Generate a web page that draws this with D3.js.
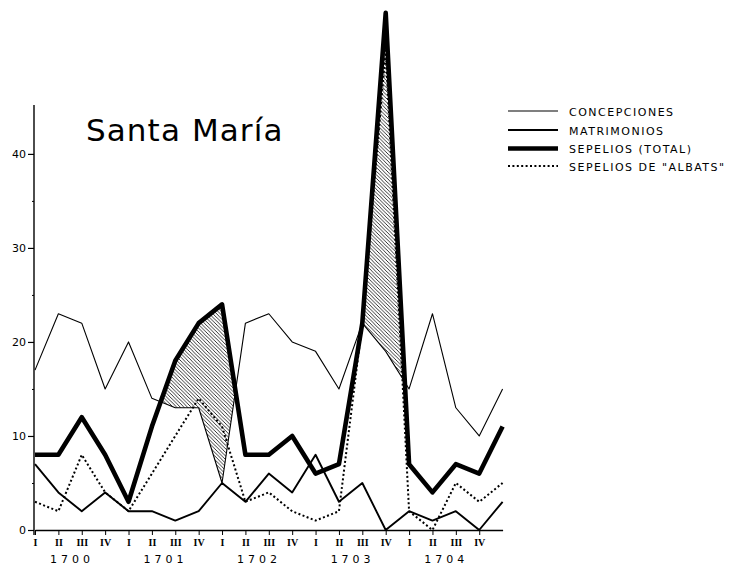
<!DOCTYPE html>
<html><head><meta charset="utf-8">
<script src="https://cdn.jsdelivr.net/npm/d3@7"></script>
<style>body{margin:0;background:#fff}</style>
</head><body>
<svg id="c" width="733" height="567"></svg>
<script>
// ---- data ----
const quarters = ["I","II","III","IV","I","II","III","IV","I","II","III","IV","I","II","III","IV","I","II","III","IV",""];
const years = ["1700","1701","1702","1703","1704"];
const concepciones = [17,23,22,15,20,14,13,13,5,22,23,20,19,15,22,19,15,23,13,10,15];
const matrimonios  = [7,4,2,4,2,2,1,2,5,3,6,4,8,3,5,0,2,1,2,0,3];
const sepeliosTotal = [8,8,12,8,3,11,18,22,24,8,8,10,6,7,22,55,7,4,7,6,11];
const sepeliosAlbats = [3,2,8,4,2,6,10,14,11,3,4,2,1,2,22,51,2,0,5,3,5];
const yTicks = [0,10,20,30,40];
const yMinor = [5,15,25,35];
const seriesNames = ["CONCEPCIONES","MATRIMONIOS","SEPELIOS (TOTAL)",'SEPELIOS DE "ALBATS"'];
const title = "Santa María";

// ---- drawing ----
const svg = d3.select("#c");
const idx = d3.range(quarters.length);
const x = d3.scalePoint().domain(idx).range([35, 502.6]);
const y = d3.scaleLinear().domain([0, 45.2]).range([530, 105]);

const defs = svg.append("defs");
const pat = defs.append("pattern").attr("id","hatch").attr("patternUnits","userSpaceOnUse")
  .attr("width",3.6).attr("height",3.6);
pat.append("path").attr("d","M0,0 L3.6,3.6 M-1,2.6 L1,4.6 M2.6,-1 L4.6,1")
  .attr("stroke","#000").attr("stroke-width",0.8);

// clip: region above concepciones line
defs.append("clipPath").attr("id","aboveConc").append("path")
  .attr("d", d3.area().x(i=>x(i)).y0(0).y1(i=>y(concepciones[i]))(idx));

// hatch: region below sepelios total, clipped to above concepciones
svg.append("path")
  .attr("d", d3.area().x(i=>x(i)).y0(530).y1(i=>y(sepeliosTotal[i]))(idx))
  .attr("fill","url(#hatch)").attr("clip-path","url(#aboveConc)");

// axes
const yAxis = svg.append("g").attr("transform","translate(34,0)")
  .call(d3.axisLeft(y).tickValues(yTicks).tickSize(6).tickSizeOuter(0).tickFormat(d3.format("d")));
yAxis.select(".domain").remove();
yAxis.selectAll("text").attr("font-family","DejaVu Sans, sans-serif").attr("font-size",11).attr("x",-8);
yAxis.selectAll("line").attr("stroke-width",1.2);
svg.append("line").attr("x1",34).attr("x2",34).attr("y1",y(0)+5).attr("y2",105)
  .attr("stroke","#000").attr("stroke-width",1.4);
const yMin = svg.append("g").attr("transform","translate(34,0)")
  .call(d3.axisLeft(y).tickValues(yMinor).tickSize(2).tickFormat(""));
yMin.select(".domain").remove();

const xAxis = svg.append("g").attr("transform",`translate(0,${y(0)})`)
  .call(d3.axisBottom(x).tickValues(idx.slice(0,20)).tickSize(5).tickSizeOuter(0).tickFormat(i=>quarters[i]));
xAxis.select(".domain").attr("stroke-width",1.4);
xAxis.selectAll("text").attr("font-family","Liberation Serif, serif").attr("font-size",10)
  .attr("font-weight","bold").attr("y",9);

// year labels
svg.append("g").selectAll("text").data(years).join("text")
  .attr("x",(d,k)=>(x(4*k+1)+x(4*k+2))/2 + 2)
  .attr("y",563)
  .attr("text-anchor","middle")
  .attr("font-family","DejaVu Sans, sans-serif").attr("font-size",11)
  .attr("letter-spacing","4px")
  .text(d=>d);

// lines
const line = arr => d3.line().x(i=>x(i)).y(i=>y(arr[i]))(idx);
const styles = [
  {data:concepciones, w:1.1, dash:null},
  {data:matrimonios, w:1.9, dash:null},
  {data:sepeliosTotal, w:4.6, dash:null},
  {data:sepeliosAlbats, w:2, dash:"2,2.4"}
];
styles.forEach(s=>{
  svg.append("path").attr("d",line(s.data)).attr("fill","none").attr("stroke","#000")
    .attr("stroke-width",s.w).attr("stroke-linejoin","round")
    .attr("stroke-dasharray",s.dash);
});

// title
svg.append("text").attr("x",86).attr("y",141)
  .attr("font-family","DejaVu Sans, sans-serif").attr("font-size",31)
  .attr("letter-spacing","1.1px")
  .text(title);

// legend
const ly = [111,130,148.5,166];
const lg = svg.append("g");
seriesNames.forEach((n,k)=>{
  lg.append("line").attr("x1",508).attr("x2",558).attr("y1",ly[k]).attr("y2",ly[k])
    .attr("stroke","#000").attr("stroke-width",styles[k].w).attr("stroke-dasharray",styles[k].dash);
  lg.append("text").attr("x",569).attr("y",ly[k]+4.5)
    .attr("font-family","DejaVu Sans, sans-serif").attr("font-size",11)
    .attr("letter-spacing","1.5px")
    .text(n);
});
</script>
</body></html>
